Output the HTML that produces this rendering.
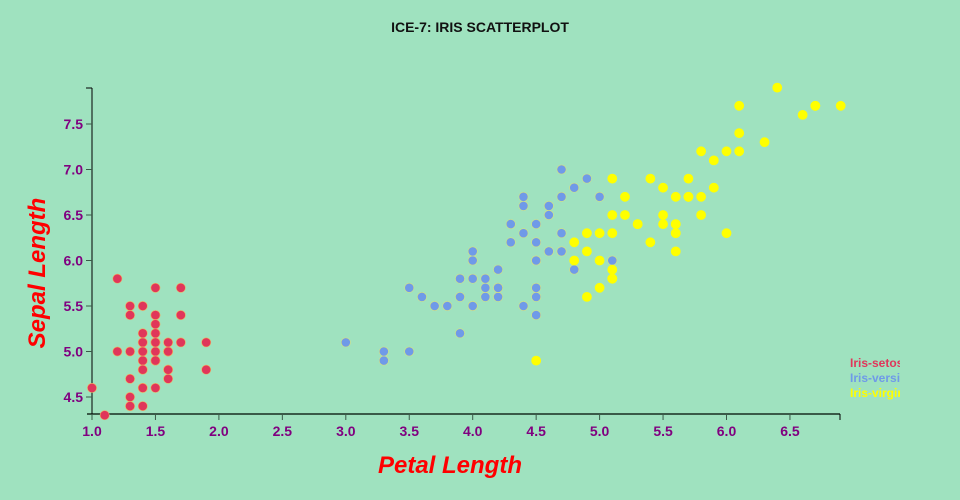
<!DOCTYPE html>
<html><head><meta charset="utf-8"><style>
body{margin:0;background:#9fe2bf;}
svg{display:block;font-family:"Liberation Sans",sans-serif;}
</style></head><body>
<svg id="s" width="960" height="500" xmlns="http://www.w3.org/2000/svg">
<rect width="960" height="500" fill="#9fe2bf"/>
<text x="480" y="32" text-anchor="middle" font-size="14" font-weight="bold" fill="#111">ICE-7: IRIS SCATTERPLOT</text>
<g id="ax"></g>
<g id="pts"></g>
<text x="450" y="473" text-anchor="middle" font-size="24" font-weight="bold" font-style="italic" fill="#ff0000">Petal Length</text>
<text transform="translate(45,273) rotate(-90)" text-anchor="middle" font-size="24" font-weight="bold" font-style="italic" fill="#ff0000">Sepal Length</text>
<svg x="850" y="350" width="50" height="60">
<text x="0" y="17" font-size="12" font-weight="bold" fill="#e0365a">Iris-setosa</text>
<text x="0" y="32" font-size="12" font-weight="bold" fill="#6f9ae8">Iris-versicolor</text>
<text x="0" y="47" font-size="12" font-weight="bold" fill="#ffff00">Iris-virginica</text>
</svg>
</svg>
<script>
var NS="http://www.w3.org/2000/svg";
function X(v){return 92+(v-1)*126.9;}
function Y(v){return 397-(v-4.5)*91;}
function el(t,a,p,txt){var e=document.createElementNS(NS,t);for(var k in a)e.setAttribute(k,a[k]);if(txt)e.textContent=txt;p.appendChild(e);return e;}
var ax=document.getElementById('ax');
el('line',{x1:87,y1:414,x2:840,y2:414,stroke:'#3a5a48','stroke-width':2},ax);
el('line',{x1:840,y1:414,x2:840,y2:420,stroke:'#000','stroke-width':1},ax);
el('line',{x1:92,y1:88,x2:92,y2:420,stroke:'#000','stroke-width':1},ax);
el('line',{x1:86,y1:88,x2:92,y2:88,stroke:'#000','stroke-width':1},ax);
for(var i=0;i<12;i++){var v=1+i*0.5,x=X(v);
 el('line',{x1:x,y1:414,x2:x,y2:420,stroke:'#3a5a48','stroke-width':1},ax);
 el('text',{x:x,y:436,'text-anchor':'middle','font-size':14,'font-weight':'bold',fill:'#800080'},ax,v.toFixed(1));}
for(var i=0;i<7;i++){var v=4.5+i*0.5,y=Y(v);
 el('line',{x1:86,y1:y,x2:92,y2:y,stroke:'#3a5a48','stroke-width':1},ax);
 el('text',{x:83,y:y+5,'text-anchor':'end','font-size':14,'font-weight':'bold',fill:'#800080'},ax,v.toFixed(1));}
var se="5.1 1.4,4.9 1.4,4.7 1.3,4.6 1.5,5.0 1.4,5.4 1.7,4.6 1.4,5.0 1.5,4.4 1.4,4.9 1.5,5.4 1.5,4.8 1.6,4.8 1.4,4.3 1.1,5.8 1.2,5.7 1.5,5.4 1.3,5.1 1.4,5.7 1.7,5.1 1.5,5.4 1.7,5.1 1.5,4.6 1.0,5.1 1.7,4.8 1.9,5.0 1.6,5.0 1.6,5.2 1.5,5.2 1.4,4.7 1.6,4.8 1.6,5.4 1.5,5.2 1.5,5.5 1.4,4.9 1.5,5.0 1.2,5.5 1.3,4.9 1.5,4.4 1.3,5.1 1.5,5.0 1.3,4.5 1.3,4.4 1.3,5.0 1.6,5.1 1.9,4.8 1.4,5.1 1.6,4.6 1.4,5.3 1.5,5.0 1.4";
var ve="7.0 4.7,6.4 4.5,6.9 4.9,5.5 4.0,6.5 4.6,5.7 4.5,6.3 4.7,4.9 3.3,6.6 4.6,5.2 3.9,5.0 3.5,5.9 4.2,6.0 4.0,6.1 4.7,5.6 3.6,6.7 4.4,5.6 4.5,5.8 4.1,6.2 4.5,5.6 3.9,5.9 4.8,6.1 4.0,6.3 4.9,6.1 4.7,6.4 4.3,6.6 4.4,6.8 4.8,6.7 5.0,6.0 4.5,5.7 3.5,5.5 3.8,5.5 3.7,5.8 3.9,6.0 5.1,5.4 4.5,6.0 4.5,6.7 4.7,6.3 4.4,5.6 4.1,5.5 4.0,5.5 4.4,6.1 4.6,5.8 4.0,5.0 3.3,5.6 4.2,5.7 4.2,5.7 4.2,6.2 4.3,5.1 3.0,5.7 4.1";
var vi="6.3 6.0,5.8 5.1,7.1 5.9,6.3 5.6,6.5 5.8,7.6 6.6,4.9 4.5,7.3 6.3,6.7 5.8,7.2 6.1,6.5 5.1,6.4 5.3,6.8 5.5,5.7 5.0,5.8 5.1,6.4 5.3,6.5 5.5,7.7 6.7,7.7 6.9,6.0 5.0,6.9 5.7,5.6 4.9,7.7 6.7,6.3 4.9,6.7 5.7,7.2 6.0,6.2 4.8,6.1 4.9,6.4 5.6,7.2 5.8,7.4 6.1,7.9 6.4,6.4 5.6,6.3 5.1,6.1 5.6,7.7 6.1,6.3 5.6,6.4 5.5,6.0 4.8,6.9 5.4,6.7 5.6,6.9 5.1,5.8 5.1,6.8 5.9,6.7 5.7,6.7 5.2,6.3 5.0,6.5 5.2,6.2 5.4,5.9 5.1";
var pts=document.getElementById('pts');
[[se,'#e0365a','#f0b060'],[ve,'#6f9ae8','#d8e080'],[vi,'#ffff00','#ffff00']].forEach(function(g){
 g[0].split(',').forEach(function(p){var a=p.split(' ');
  el('circle',{cx:X(+a[1]),cy:Y(+a[0]),r:4.6,fill:g[1],stroke:g[2],'stroke-width':0.6},pts);});});
</script>
</body></html>
